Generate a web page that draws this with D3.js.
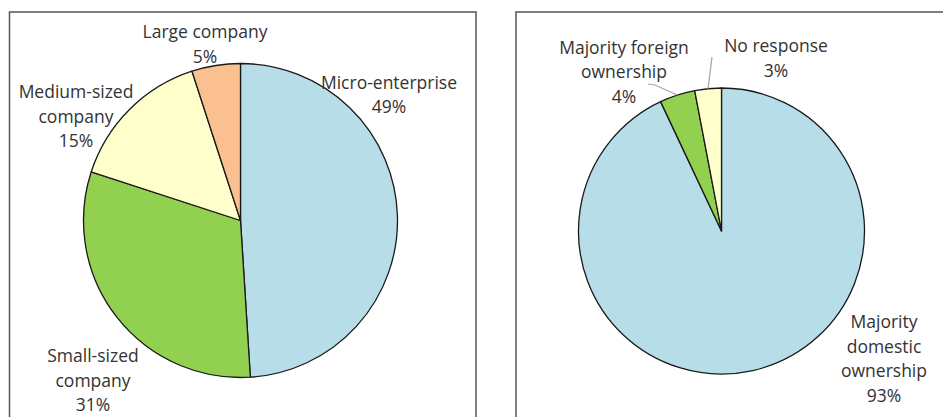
<!DOCTYPE html>
<html>
<head>
<meta charset="utf-8">
<script src="https://cdn.jsdelivr.net/npm/d3@7"></script>
<style>
  html, body { margin: 0; padding: 0; background: #fff; }
  svg { display: block; }
  text { font-family: "Open Sans", sans-serif; font-size: 17.5px; fill: #333; }
</style>
</head>
<body>
<svg id="chart" width="943" height="417"></svg>
<script>
// Company size breakdown (clockwise from 12 o'clock)
const sizeCategories = ["Micro-enterprise", "Small-sized company", "Medium-sized company", "Large company"];
const sizeValues = [49, 31, 15, 5];
const sizeColors = ["#b7dee8", "#92d050", "#ffffcc", "#fac090"];
const sizeLabelLines = [["Micro-enterprise"], ["Small-sized", "company"], ["Medium-sized", "company"], ["Large company"]];

// Ownership breakdown (clockwise from 12 o'clock)
const ownCategories = ["Majority domestic ownership", "Majority foreign ownership", "No response"];
const ownValues = [93, 4, 3];
const ownColors = ["#b7dee8", "#92d050", "#ffffcc"];
const ownLabelLines = [["Majority", "domestic", "ownership"], ["Majority foreign", "ownership"], ["No response"]];

const svg = d3.select("#chart");

// Panel frames (open at the bottom / right edge of the page)
svg.append("rect").attr("x", 9.5).attr("y", 12).attr("width", 466.5).attr("height", 440)
  .attr("fill", "none").attr("stroke", "#555").attr("stroke-width", 1.5);
svg.append("rect").attr("x", 516).attr("y", 12).attr("width", 460).attr("height", 440)
  .attr("fill", "none").attr("stroke", "#555").attr("stroke-width", 1.5);

const pie = d3.pie().sort(null).value(d => d.value);

function drawPie(cfg) {
  const data = cfg.categories.map((c, i) => ({ name: c, value: cfg.values[i], color: cfg.colors[i], lines: cfg.lines[i] }));
  const arcs = pie(data);
  const arc = d3.arc().innerRadius(0).outerRadius(cfg.r);
  const g = svg.append("g").attr("transform", `translate(${cfg.cx},${cfg.cy})`);

  g.selectAll("path").data(arcs).join("path")
    .attr("d", arc)
    .attr("fill", d => d.data.color)
    .attr("stroke", "#1a1a1a")
    .attr("stroke-width", 1.3)
    .attr("stroke-linejoin", "round");

  const lineH = 24.5;
  arcs.forEach((a, i) => {
    const pos = cfg.labelPos[i];
    // leader line from slice edge toward label
    if (pos.leader) {
      const mid = (a.startAngle + a.endAngle) / 2;
      const ex = cfg.r * Math.sin(mid), ey = -cfg.r * Math.cos(mid);
      g.append("polyline")
        .attr("points", [[ex, ey], ...pos.leader.map(p => [p[0] - cfg.cx, p[1] - cfg.cy])].map(p => p.join(",")).join(" "))
        .attr("fill", "none").attr("stroke", "#a6a6a6").attr("stroke-width", 1.2);
    }
    const allLines = a.data.lines.concat([a.data.value + "%"]);
    const t = svg.append("text").attr("text-anchor", "middle");
    allLines.forEach((ln, k) => {
      t.append("tspan").attr("x", pos.x).attr("y", pos.y + k * lineH).text(ln);
    });
  });
}

drawPie({
  cx: 240.5, cy: 220.5, r: 157,
  categories: sizeCategories, values: sizeValues, colors: sizeColors, lines: sizeLabelLines,
  labelPos: [
    { x: 389, y: 88.5 },
    { x: 93, y: 362 },
    { x: 76, y: 98 },
    { x: 205, y: 38 }
  ]
});

drawPie({
  cx: 721.5, cy: 231, r: 143,
  categories: ownCategories, values: ownValues, colors: ownColors, lines: ownLabelLines,
  labelPos: [
    { x: 884, y: 328 },
    { x: 624, y: 53.5, leader: [[655, 85], [648, 84]] },
    { x: 776, y: 52, leader: [[712, 57]] }
  ]
});
</script>
</body>
</html>
